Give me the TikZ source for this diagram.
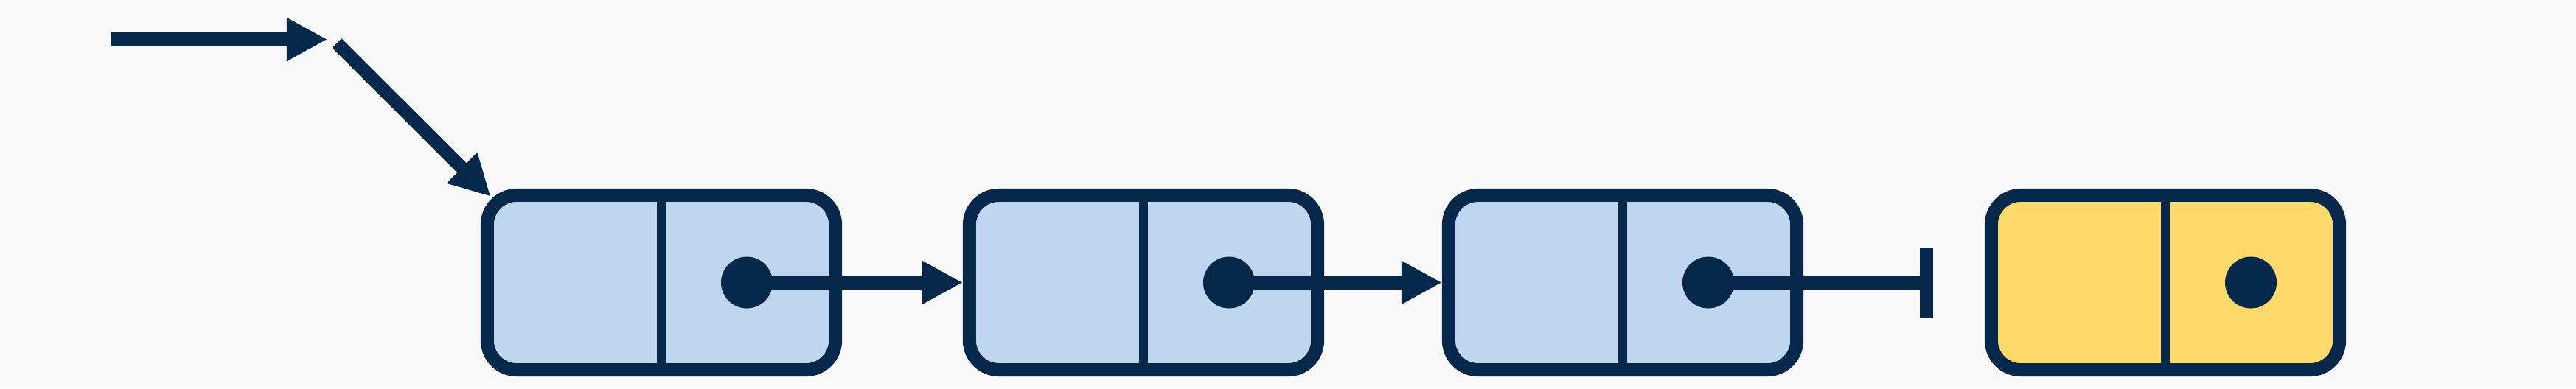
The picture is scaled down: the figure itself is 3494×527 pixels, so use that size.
\documentclass[tikz,border=0pt]{standalone}
\usetikzlibrary{arrows.meta,calc}
\definecolor{bgc}{HTML}{F9F9FA}
\definecolor{navy}{HTML}{06284A}
\definecolor{lblue}{HTML}{BFD7EE}
\definecolor{lyellow}{HTML}{FFDA6A}
\begin{document}
\begin{tikzpicture}[x=0.01cm,y=-0.01cm,
  cell/.style={draw=navy,line width=0.18cm,rounded corners=0.40cm,minimum width=4.72cm,minimum height=2.37cm,inner sep=0pt},
  divider/.style={draw=navy,line width=0.12cm},
  dotc/.style={circle,fill=navy,minimum size=0.70cm,inner sep=0pt},
  link/.style={draw=navy,line width=0.18cm,-{Triangle[length=0.55cm,width=0.55cm]}},
  nilend/.style={draw=navy,line width=0.18cm,-{Bar[width=0.95cm]}}]
\fill[bgc] (0,0) rectangle (3494,527);
\useasboundingbox (0,0) rectangle (3494,527);
% nodes
\node[cell,fill=lblue] (n1) at (897,383.5) {};
\node[cell,fill=lblue] (n2) at (1551,383.5) {};
\node[cell,fill=lblue] (n3) at (2201,383.5) {};
\node[cell,fill=lyellow] (n4) at (2937,383.5) {};
\foreach \n in {n1,n2,n3,n4}{\draw[divider] (\n.north) -- (\n.south);}
% head pointer
\coordinate (h0) at (150,53.5);
\coordinate (h1) at (444,53.5);
\coordinate (h2) at (457,58.7);
\draw[link] (h0) -- (h1);
\draw[link] (h2) -- ($(n1.north west)+(13.6,10.7)$);
% links
\coordinate (nil) at ($(n3.east)+(176,0)$);
\draw[link] ($(n1.center)+(116,0)$) -- (n2.west);
\draw[link] ($(n2.center)+(116,0)$) -- (n3.west);
\draw[nilend] ($(n3.center)+(116,0)$) -- (nil);
% dots
\node[dotc] (d1) at ($(n1.center)+(116,0)$) {};
\node[dotc] (d2) at ($(n2.center)+(116,0)$) {};
\node[dotc] (d3) at ($(n3.center)+(116,0)$) {};
\node[dotc] (d4) at ($(n4.center)+(116,0)$) {};
\end{tikzpicture}
\end{document}
